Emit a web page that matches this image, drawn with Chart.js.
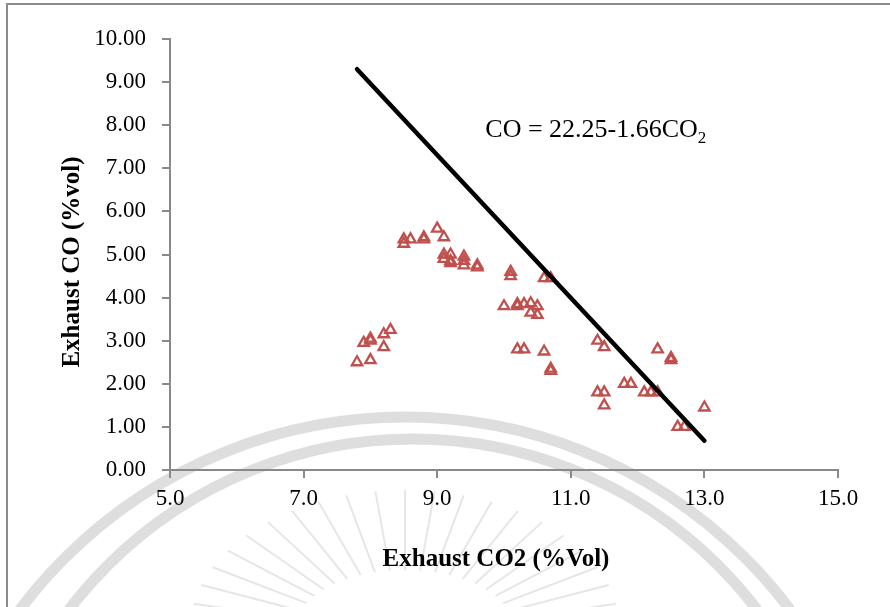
<!DOCTYPE html>
<html>
<head>
<meta charset="utf-8">
<script src="https://cdn.jsdelivr.net/npm/chart.js@4.4.1/dist/chart.umd.min.js"></script>
<style>
  html, body { margin: 0; padding: 0; background: #ffffff; }
  #wrap { width: 890px; height: 607px; position: relative; }
</style>
</head>
<body>
<div id="wrap"><canvas id="c" width="890" height="607"></canvas></div>
<script>
// ---- data ----
const co2Values = [7.8, 7.9, 8.0, 8.0, 8.0, 8.2, 8.2, 8.3, 8.5, 8.5, 8.6, 8.8, 8.8, 9.0, 9.1, 9.1, 9.1, 9.2, 9.2, 9.2,
  9.4, 9.4, 9.4, 9.6, 9.6, 10.0, 10.1, 10.1, 10.2, 10.2, 10.2, 10.3, 10.3, 10.4, 10.4, 10.5, 10.5, 10.6, 10.6, 10.7,
  10.7, 10.7, 11.4, 11.4, 11.5, 11.5, 11.5, 11.8, 11.9, 12.1, 12.2, 12.3, 12.3, 12.5, 12.5, 12.6, 12.7, 13.0];
const coValues = [2.5, 2.95, 2.55, 3.0, 3.05, 2.85, 3.15, 3.25, 5.25, 5.35, 5.35, 5.35, 5.4, 5.6, 5.4, 5.0, 4.9, 5.0, 4.85, 4.8,
  4.95, 4.85, 4.75, 4.75, 4.7, 3.8, 4.6, 4.5, 3.85, 3.8, 2.8, 3.85, 2.8, 3.87, 3.65, 3.8, 3.6, 4.45, 2.75, 4.45,
  2.3, 2.35, 3.0, 1.8, 2.85, 1.8, 1.5, 2.0, 2.0, 1.8, 1.8, 1.8, 2.8, 2.55, 2.6, 1.0, 1.0, 1.45];
const fitX = [7.8, 13.0];
const fitY = [9.3, 0.68];
const xTicks = [5.0, 7.0, 9.0, 11.0, 13.0, 15.0];
const yTicks = [0, 1, 2, 3, 4, 5, 6, 7, 8, 9, 10];
const xTitle = 'Exhaust CO2 (%Vol)';
const yTitle = 'Exhaust CO (%vol)';
const eqMain = 'CO = 22.25-1.66CO';
const eqSub = '2';
const eqAt = [9.72, 7.73];

const scatterPts = co2Values.map((x, i) => ({ x: x, y: coValues[i] }));
const fitPts = fitX.map((x, i) => ({ x: x, y: fitY[i] }));

const SERIF = '"Liberation Serif", "Times New Roman", serif';
const AXIS_GRAY = '#898989';

const backdrop = {
  id: 'backdrop',
  beforeDraw(chart) {
    const ctx = chart.ctx;
    ctx.save();
    ctx.fillStyle = '#ffffff';
    ctx.fillRect(0, 0, chart.width, chart.height);
    // faint watermark arcs
    ctx.strokeStyle = 'rgba(200,200,200,0.6)';
    ctx.lineWidth = 11;
    ctx.beginPath();
    ctx.arc(405, 898, 481, Math.PI, 2 * Math.PI);
    ctx.stroke();
    ctx.beginPath();
    ctx.arc(413, 871, 432, Math.PI, 2 * Math.PI);
    ctx.stroke();
    // faint rays
    ctx.lineWidth = 2;
    ctx.strokeStyle = 'rgba(200,200,200,0.45)';
    const cx = 405, cy = 630;
    for (let k = 0; k <= 20; k++) {
      const a = Math.PI * (1.06 + 0.88 * k / 20);
      ctx.beginPath();
      ctx.moveTo(cx + Math.cos(a) * 110, cy + Math.sin(a) * 60);
      ctx.lineTo(cx + Math.cos(a) * 215, cy + Math.sin(a) * 140);
      ctx.stroke();
    }
    // frame (top and left edges)
    ctx.strokeStyle = '#8c8c8c';
    ctx.lineWidth = 2;
    ctx.beginPath();
    ctx.moveTo(890, 4);
    ctx.lineTo(7, 4);
    ctx.lineTo(7, 607);
    ctx.stroke();
    ctx.restore();
  }
};

const texts = {
  id: 'texts',
  afterDraw(chart) {
    const ctx = chart.ctx;
    const x = chart.scales.x.getPixelForValue(eqAt[0]);
    const y = chart.scales.y.getPixelForValue(eqAt[1]);
    ctx.save();
    ctx.fillStyle = '#000000';
    ctx.textBaseline = 'alphabetic';
    ctx.textAlign = 'left';
    ctx.font = '26px ' + SERIF;
    ctx.fillText(eqMain, x, y);
    const w = ctx.measureText(eqMain).width;
    ctx.font = '17px ' + SERIF;
    ctx.fillText(eqSub, x + w, y + 6);
    // axis titles
    ctx.font = 'bold 25px ' + SERIF;
    ctx.textAlign = 'center';
    ctx.textBaseline = 'middle';
    ctx.fillText(xTitle, 496, 560);
    ctx.translate(73, 262);
    ctx.rotate(-Math.PI / 2);
    ctx.fillText(yTitle, 0, 0);
    ctx.restore();
  }
};

new Chart(document.getElementById('c'), {
  type: 'scatter',
  data: {
    datasets: [
      {
        label: 'CO',
        data: scatterPts,
        pointStyle: 'triangle',
        pointRadius: 6,
        pointHoverRadius: 6,
        borderColor: '#C0504D',
        backgroundColor: 'rgba(255,255,255,0)',
        borderWidth: 2.3,
        showLine: false,
        order: 2
      },
      {
        label: 'fit',
        data: fitPts,
        showLine: true,
        borderColor: '#000000',
        borderWidth: 4.5,
        pointRadius: 0,
        borderCapStyle: 'round',
        order: 1
      }
    ]
  },
  options: {
    responsive: false,
    devicePixelRatio: 1,
    animation: false,
    layout: { padding: { top: 39, right: 52, left: 0, bottom: 0 } },
    plugins: {
      legend: { display: false },
      tooltip: { enabled: false }
    },
    scales: {
      x: {
        type: 'linear',
        min: 5,
        max: 15,
        afterBuildTicks(s) { s.ticks = xTicks.map(v => ({ value: v })); },
        afterFit(s) { s.height = 137; },
        border: { display: true, color: AXIS_GRAY, width: 2 },
        grid: { display: true, drawOnChartArea: false, drawTicks: true, tickLength: 8, color: AXIS_GRAY, lineWidth: 2 },
        ticks: {
          color: '#000000',
          padding: 7,
          font: { family: SERIF, size: 23 },
          callback: v => Number(v).toFixed(1)
        },
        title: { display: false }
      },
      y: {
        type: 'linear',
        min: 0,
        max: 10,
        afterBuildTicks(s) { s.ticks = yTicks.map(v => ({ value: v })); },
        afterFit(s) { s.width = 170; },
        border: { display: true, color: AXIS_GRAY, width: 2 },
        grid: { display: true, drawOnChartArea: false, drawTicks: true, tickLength: 8, color: AXIS_GRAY, lineWidth: 2 },
        ticks: {
          color: '#000000',
          padding: 16,
          font: { family: SERIF, size: 23 },
          callback: v => Number(v).toFixed(2)
        },
        title: { display: false }
      }
    }
  },
  plugins: [backdrop, texts]
});
</script>
</body>
</html>
